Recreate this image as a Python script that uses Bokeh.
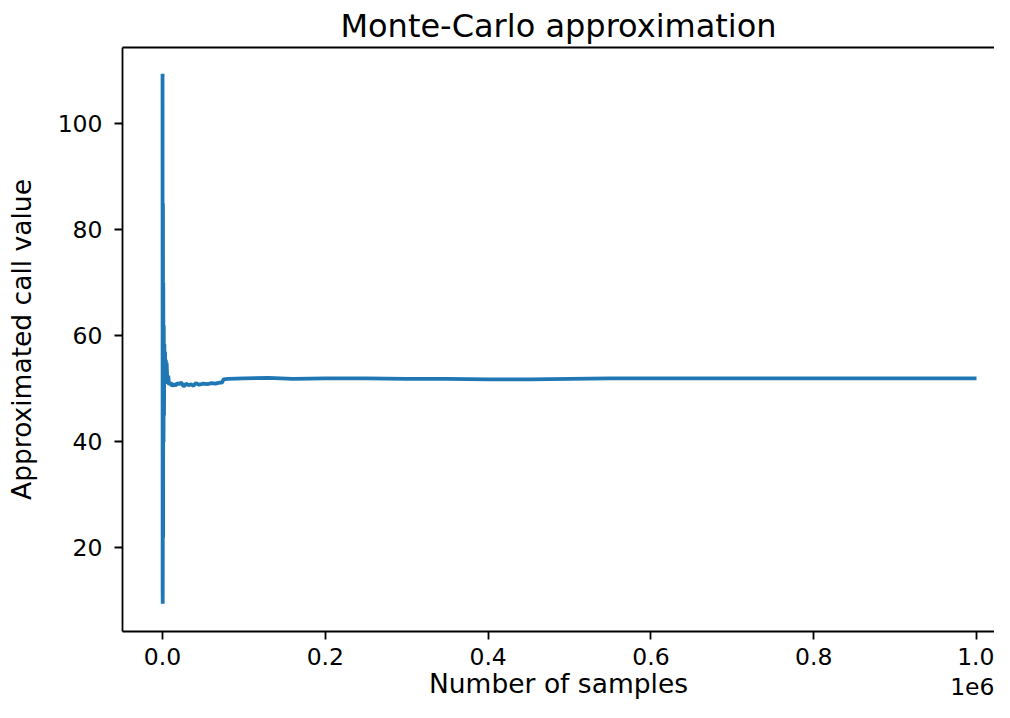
from bokeh.plotting import figure
from bokeh.models import Range1d, FixedTicker, LinearAxis, Title
from bokeh.embed import file_html
from bokeh.resources import INLINE

# Samples (x) and running Monte-Carlo estimate (y)
n_samples = [1, 100, 200, 300, 500, 700, 900, 1200, 1500, 1800, 2200, 2600,
             3000, 3500, 4000, 4500, 5000, 6000, 7000, 8000, 10000, 12000,
             14000, 16000, 18000, 20000, 23000, 26000, 29000, 32000, 35000,
             38000, 41000, 45000, 50000, 55000, 60000, 65000, 70000, 73000,
             75000, 80000, 100000, 130000, 160000, 200000, 250000, 300000,
             350000, 400000, 450000, 500000, 550000, 600000, 700000, 800000,
             900000, 1000000]
call_value = [109.5, 12.0, 9.5, 19.0, 85.0, 22.0, 70.0, 40.0, 62.0, 45.0, 58.5, 52.0,
              57.0, 54.0, 55.5, 53.0, 55.0, 51.0, 52.5, 50.8, 51.2, 50.5,
              51.0, 50.6, 51.1, 50.9, 51.2, 50.5, 51.0, 50.7, 50.9,
              50.6, 51.1, 50.8, 51.0, 50.9, 51.1, 51.0, 51.2, 51.2,
              51.8, 51.9, 52.0, 52.1, 51.9, 52.0, 52.0, 51.9,
              51.9, 51.8, 51.8, 51.9, 52.0, 52.0, 52.0, 52.0,
              52.0, 52.0]

x_ticks = [0, 200000, 400000, 600000, 800000, 1000000]
x_tick_labels = ["0.0", "0.2", "0.4", "0.6", "0.8", "1.0"]
y_ticks = [20, 40, 60, 80, 100]
offset_text = "1e6"

FONT = "DejaVu Sans"

p = figure(width=994, height=702, output_backend="svg", toolbar_location=None,
           x_range=Range1d(-49200, 1022100), y_range=Range1d(4.245, 114.43),
           min_border_left=122, min_border_right=0, min_border_top=47,
           min_border_bottom=71)

p.title.text = "Monte-Carlo approximation"
p.title.text_font = FONT
p.title.text_font_size = "32px"
p.title.text_font_style = "normal"
p.title.align = "center"
p.title.offset = 11
p.title.text_color = "#000000"
p.title.standoff = 6

p.line(n_samples, call_value, line_color="#1f77b4", line_width=3.8)

p.xgrid.visible = False
p.ygrid.visible = False
p.outline_line_color = None
p.background_fill_color = "white"
p.border_fill_color = "white"

for ax in (p.xaxis[0], p.yaxis[0]):
    ax.axis_line_color = "black"
    ax.axis_line_width = 1.8
    ax.major_tick_line_color = "black"
    ax.major_tick_line_width = 1.8
    ax.major_tick_out = 8
    ax.major_tick_in = 0
    ax.minor_tick_line_color = None
    ax.major_label_text_font = FONT
    ax.major_label_text_font_size = "23.5px"
    ax.major_label_text_color = "#000000"
    ax.axis_label_text_font = FONT
    ax.axis_label_text_font_size = "26.5px"
    ax.axis_label_text_font_style = "normal"
    ax.axis_label_text_color = "#000000"

p.xaxis[0].ticker = FixedTicker(ticks=x_ticks)
p.xaxis[0].major_label_overrides = {t: l for t, l in zip(x_ticks, x_tick_labels)}
p.xaxis[0].axis_label = "Number of samples"
p.xaxis[0].major_label_standoff = 8
p.xaxis[0].axis_label_standoff = 0

p.yaxis[0].ticker = FixedTicker(ticks=y_ticks)
p.yaxis[0].axis_label = "Approximated call value"
p.yaxis[0].major_label_standoff = 12
p.yaxis[0].axis_label_standoff = 18

top = LinearAxis(ticker=FixedTicker(ticks=[]), axis_line_color="black",
                 axis_line_width=1.8, major_tick_line_color=None,
                 minor_tick_line_color=None, major_label_text_font_size="0px")
p.add_layout(top, "above")

p.add_layout(Title(text=offset_text, align="right", vertical_align="top",
                   standoff=-48, text_font=FONT, text_font_size="23.5px",
                   text_font_style="normal", text_color="#000000"), "below")

open("out.html", "w").write(file_html(p, INLINE))
